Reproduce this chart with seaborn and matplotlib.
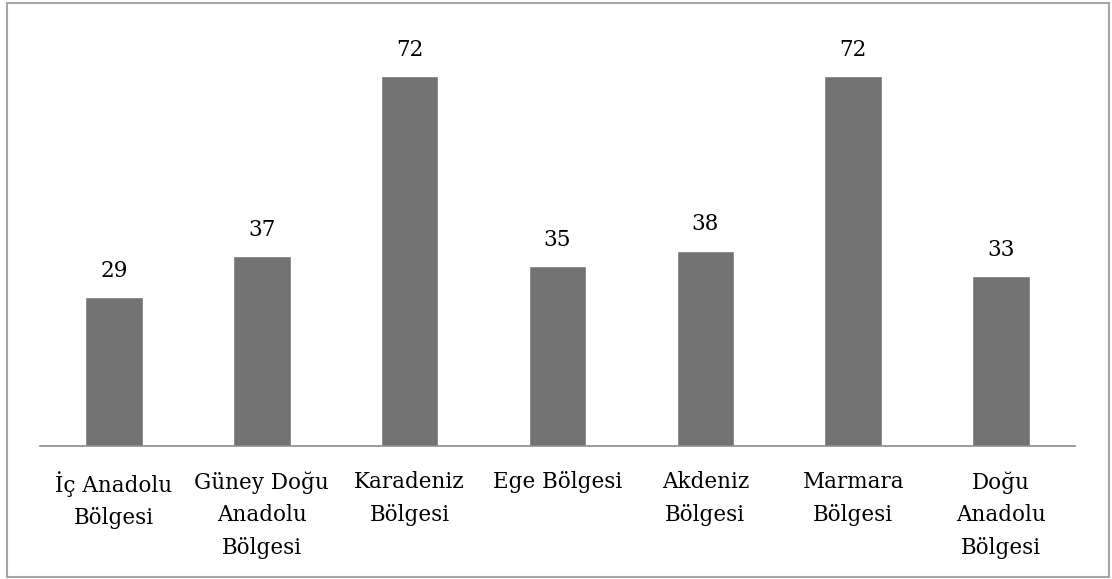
import matplotlib
matplotlib.use("Agg")
import matplotlib.pyplot as plt
import seaborn as sns
import pandas as pd
from matplotlib.patches import Rectangle

categories = ["İç Anadolu\nBölgesi", "Güney Doğu\nAnadolu\nBölgesi", "Karadeniz\nBölgesi",
              "Ege Bölgesi", "Akdeniz\nBölgesi", "Marmara\nBölgesi", "Doğu\nAnadolu\nBölgesi"]
values = [29, 37, 72, 35, 38, 72, 33]

sns.set_style("white")
plt.rcParams['font.family'] = ['DejaVu Serif']
plt.rcParams['text.color'] = 'black'
plt.rcParams['xtick.color'] = 'black'

df = pd.DataFrame({"cat": categories, "val": values})

fig = plt.figure(figsize=(11.12, 5.79), dpi=100)
ax = fig.add_axes([40/1112, 1-446/579, (1075-40)/1112, (446-35)/579])
sns.barplot(data=df, x="cat", y="val", color="#737373", width=0.39, saturation=1, ax=ax)
ax.set_xlim(-0.5, 6.5)
ax.set_ylim(0, 80)
ax.set_xlabel("")
ax.set_ylabel("")
ax.set_yticks([])
for s in ["top", "right", "left"]:
    ax.spines[s].set_visible(False)
ax.spines["bottom"].set_color("#8c8c8c")
ax.spines["bottom"].set_linewidth(1.2)
ax.tick_params(axis="x", length=0, pad=18, labelsize=15.5, labelcolor="black")
for lbl in ax.get_xticklabels():
    lbl.set_linespacing(1.62)
for i, v in enumerate(values):
    ax.annotate(str(v), (i, v), xytext=(0, 11), textcoords="offset points",
                ha="center", va="bottom", fontsize=15.5, color="black")
fig.patches.append(Rectangle((7/1112, 2/579), 1102/1112, 574/579, transform=fig.transFigure,
                             fill=False, edgecolor="#a6a6a6", linewidth=1.5))
fig.savefig("out.png", dpi=100)
